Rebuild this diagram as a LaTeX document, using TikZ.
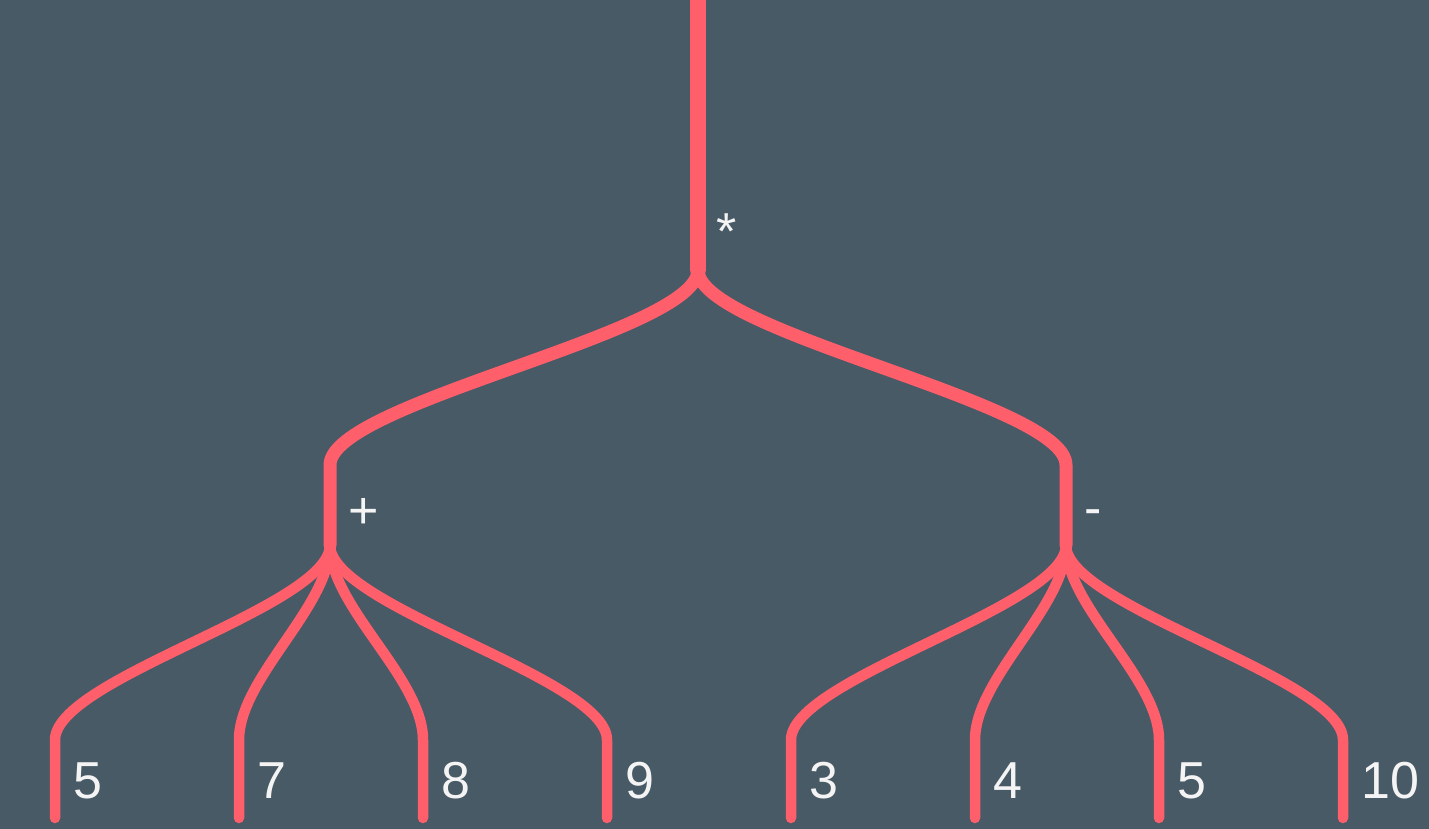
\documentclass[tikz,border=0pt]{standalone}
\usepackage{fontspec}
\setmainfont{Liberation Sans}
\usepackage{tikz}
\usetikzlibrary{calc}
\definecolor{SlateBg}{HTML}{475A66}
\definecolor{LinkRed}{HTML}{FF5E6B}
\definecolor{LabelWhite}{HTML}{F4F4F4}

\begin{document}
\begin{tikzpicture}[x=.5pt,y=-.5pt,font=\fontsize{26}{30}\selectfont,line cap=round,
 link/.style={draw=LinkRed,line join=round},
 rootlink/.style={link,line width=7.75pt},
 midlink/.style={link,line width=6.5pt},
 leaflink/.style={link,line width=5.25pt},
 lbl/.style={text=LabelWhite,anchor=base west,inner sep=0pt}]
\useasboundingbox (0,0) rectangle (1429,829);
\clip (0,0) rectangle (1429,829);
\fill[SlateBg] (0,0) rectangle (1429,829);
% junction points
\coordinate (top) at (698,-10);
\coordinate (mul) at (698,270);
\coordinate (plusTop) at (330,465);
\coordinate (plus) at (330,545);
\coordinate (minusTop) at (1066,465);
\coordinate (minus) at (1066,545);
% stems
\draw[rootlink] (top)--(mul);
\draw[midlink] (mul) .. controls +(0,63) and +(0,-63) .. (plusTop) -- (plus);
\draw[midlink] (mul) .. controls +(0,63) and +(0,-63) .. (minusTop) -- (minus);
% leaves
\foreach \x/\v [count=\i] in {55/5,239/7,423/8,607/9}{
 \coordinate (bendA\i) at (\x,740);
 \coordinate (endA\i) at (\x,818);
 \draw[leaflink] (plus) .. controls +(0,62) and +(0,-62) .. (bendA\i) -- (endA\i);
 \node[lbl] (valA\i) at ([shift={(18,-20)}]endA\i) {\v};
}
\foreach \x/\v [count=\i] in {791/3,975/4,1159/5,1343/10}{
 \coordinate (bendB\i) at (\x,740);
 \coordinate (endB\i) at (\x,818);
 \draw[leaflink] (minus) .. controls +(0,62) and +(0,-62) .. (bendB\i) -- (endB\i);
 \node[lbl] (valB\i) at ([shift={(18,-20)}]endB\i) {\v};
}
% operators
\node[lbl] (opMul) at ([shift={(18,-21)}]mul) {*};
\node[lbl] (opPlus) at ([shift={(18,-17)}]plus) {+};
\node[lbl] (opMinus) at ([shift={(18,-20)}]minus) {-};
\end{tikzpicture}
\end{document}
